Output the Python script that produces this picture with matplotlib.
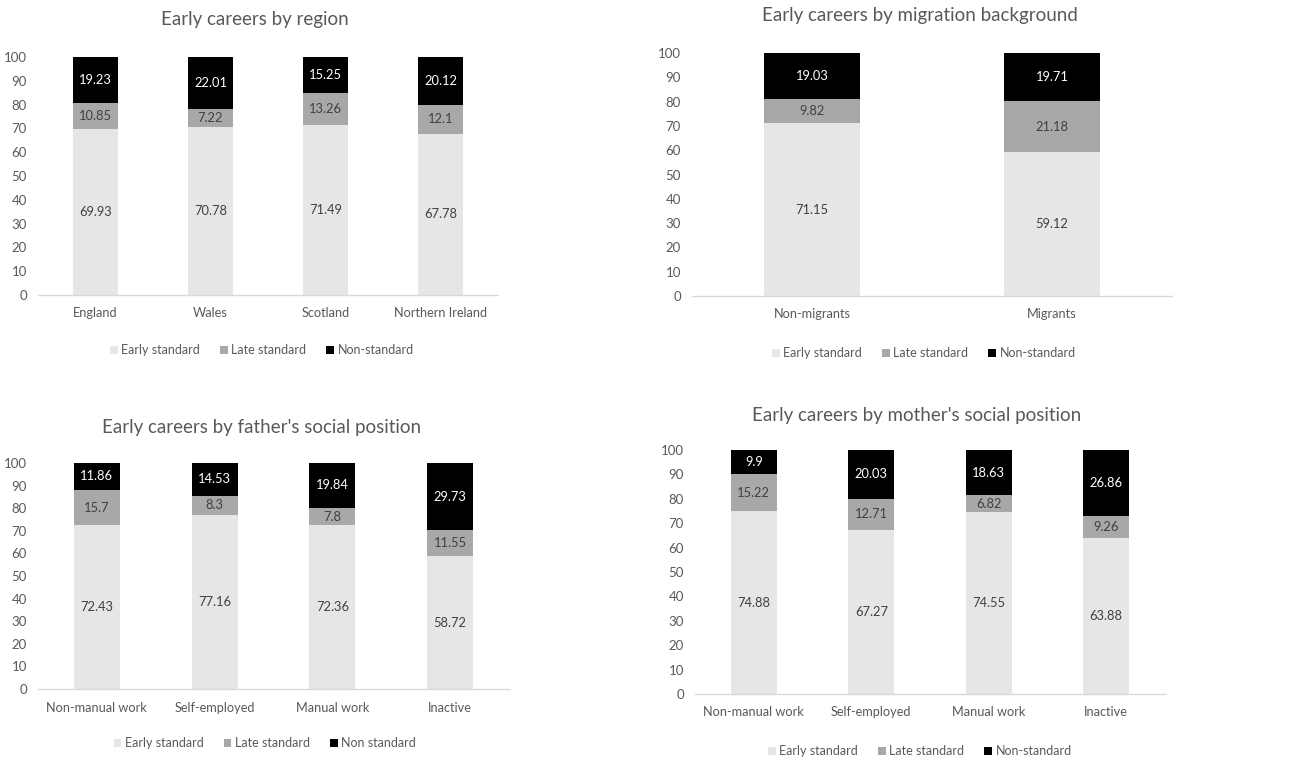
import matplotlib
matplotlib.use("Agg")
import matplotlib.pyplot as plt
import numpy as np

plt.rcParams['font.family'] = ['Lato', 'DejaVu Sans']

W, H = 1304, 763

series_names = ["Early standard", "Late standard", "Non-standard"]
colors = ["#e7e6e7", "#a9a8a9", "#000000"]
text_colors = ["#404040", "#404040", "#ffffff"]

region_cats = ["England", "Wales", "Scotland", "Northern Ireland"]
region_early = [69.93, 70.78, 71.49, 67.78]
region_late = [10.85, 7.22, 13.26, 12.1]
region_non = [19.23, 22.01, 15.25, 20.12]

migration_cats = ["Non-migrants", "Migrants"]
migration_early = [71.15, 59.12]
migration_late = [9.82, 21.18]
migration_non = [19.03, 19.71]

father_cats = ["Non-manual work", "Self-employed", "Manual work", "Inactive"]
father_early = [72.43, 77.16, 72.36, 58.72]
father_late = [15.7, 8.3, 7.8, 11.55]
father_non = [11.86, 14.53, 19.84, 29.73]

mother_cats = ["Non-manual work", "Self-employed", "Manual work", "Inactive"]
mother_early = [74.88, 67.27, 74.55, 63.88]
mother_late = [15.22, 12.71, 6.82, 9.26]
mother_non = [9.9, 20.03, 18.63, 26.86]

fig = plt.figure(figsize=(W / 100, H / 100), dpi=100)
fig.patch.set_facecolor("white")


def panel(box, cats, stacks, title, title_xy, legend_xy, legend_labels, width):
    left, right, top, bottom = box
    ax = fig.add_axes([left / W, 1 - bottom / H, (right - left) / W, (bottom - top) / H])
    x = np.arange(len(cats))
    base = np.zeros(len(cats))
    handles = []
    for vals, col, tcol, name in zip(stacks, colors, text_colors, legend_labels):
        vals = np.array(vals)
        b = ax.bar(x, vals, width, bottom=base, color=col, label=name, zorder=2)
        handles.append(b)
        for xi, v, b0 in zip(x, vals, base):
            ax.text(xi, b0 + v / 2, f"{v:g}", ha="center", va="center",
                    fontsize=9.3, color=tcol, zorder=3)
        base = base + vals
    ax.set_xlim(-0.5, len(cats) - 0.5)
    ax.set_ylim(0, 100)
    ax.set_yticks(np.arange(0, 101, 10))
    ax.set_xticks(x)
    ax.set_xticklabels(cats, fontsize=9.2, color="#595959")
    ax.tick_params(axis="y", length=0, labelsize=9.5, labelcolor="#595959", pad=8)
    ax.tick_params(axis="x", length=0, pad=9)
    for s in ["top", "right", "left"]:
        ax.spines[s].set_visible(False)
    ax.spines["bottom"].set_color("#d9d9d9")
    ax.spines["bottom"].set_linewidth(1.0)
    ax.set_facecolor("none")
    fig.text(title_xy[0] / W, 1 - title_xy[1] / H, title, ha="center", va="center",
             fontsize=13.5, color="#595959")
    fig.legend(handles=handles, labels=legend_labels, loc="center",
               bbox_to_anchor=(legend_xy[0] / W, 1 - legend_xy[1] / H),
               ncol=3, frameon=False, fontsize=9, handlelength=0.6, handleheight=0.6,
               handletextpad=0.3, columnspacing=1.6, labelcolor="#595959")
    return ax


panel((38, 498, 57, 295), region_cats, [region_early, region_late, region_non],
      "Early careers by region", (255, 20), (262, 350), series_names, 0.39)

panel((692, 1172, 53, 296), migration_cats, [migration_early, migration_late, migration_non],
      "Early careers by migration background", (920, 15), (924, 353), series_names, 0.4)

panel((38, 509, 463, 689), father_cats, [father_early, father_late, father_non],
      "Early careers by father's social position", (262, 428), (265, 743),
      ["Early standard", "Late standard", "Non standard"], 0.39)

panel((695, 1165, 450, 694), mother_cats, [mother_early, mother_late, mother_non],
      "Early careers by mother's social position", (917, 415), (920, 751), series_names, 0.39)

fig.savefig("out.png", dpi=100, facecolor="white")
